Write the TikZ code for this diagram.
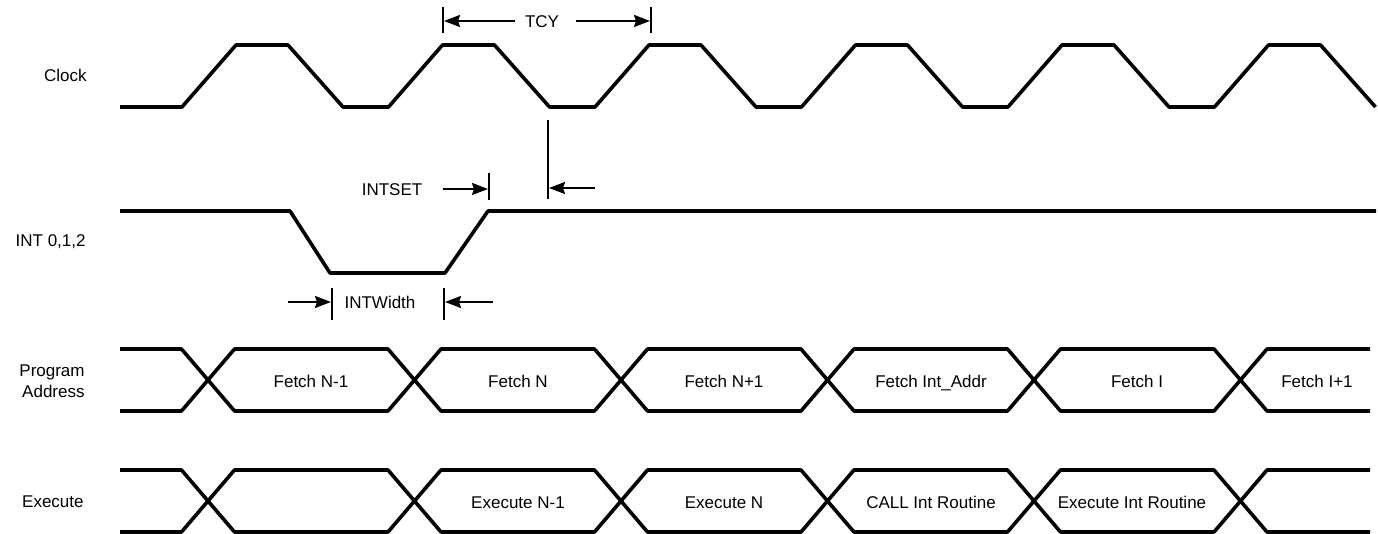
\documentclass[tikz,border=0pt]{standalone}
\usepackage{fontspec}
\setmainfont{Liberation Sans}
\usetikzlibrary{arrows.meta}
\tikzstyle{signal} = [line width=1.8pt, line join=round]
\tikzstyle{bar} = [line width=0.85pt]
\tikzset{
	dimarrow/.style = {line width=1.1pt, -{Stealth[length=8pt, width=6pt, inset=1pt]}}
}
\tikzstyle{sigName} = [anchor=east, align=right, inner sep=0pt, font=\fontsize{8.5}{10.5}\selectfont]
\tikzstyle{cellText} = [inner sep=0pt, text height=1.6ex, text depth=0.4ex, font=\fontsize{8.5}{10}\selectfont]

\begin{document}
\begin{tikzpicture}[x=0.5pt,y=-0.5pt]
\useasboundingbox (0,0) rectangle (1378,534);

% Signal names
\node (clockName) [sigName] at (87,75) {Clock};
\node (intName) [sigName] at (86,242) {INT 0,1,2};
\node (addrName) [sigName] at (85,381) {Program\\Address};
\node (execName) [sigName] at (84,502) {Execute};

% Clock
\draw [signal] (120,107) -- (182,107) -- (236,45) -- (288,45) -- (343,107)
  -- (388.5,107) -- (442.5,45) -- (494.5,45) -- (549.5,107)
  -- (595,107) -- (649,45) -- (701,45) -- (756,107)
  -- (801.5,107) -- (855.5,45) -- (907.5,45) -- (962.5,107)
  -- (1008,107) -- (1062,45) -- (1114,45) -- (1169,107)
  -- (1214.5,107) -- (1268.5,45) -- (1320.5,45) -- (1375.5,107);

% INT 0,1,2
\draw [signal] (120,211) -- (290,211) -- (330,273) -- (445,273) -- (488,211) -- (1376,211);

% Program Address bus
\draw [signal] (120,349) -- (181.5,349) -- (234.5,411) -- (388,411) -- (441,349)
  -- (594.5,349) -- (647.5,411) -- (801,411) -- (854,349) -- (1007.5,349)
  -- (1060.5,411) -- (1214,411) -- (1267,349) -- (1370,349);
\draw [signal] (120,411) -- (181.5,411) -- (234.5,349) -- (388,349) -- (441,411)
  -- (594.5,411) -- (647.5,349) -- (801,349) -- (854,411) -- (1007.5,411)
  -- (1060.5,349) -- (1214,349) -- (1267,411) -- (1370,411);

% Execute bus
\draw [signal] (120,470) -- (181.5,470) -- (234.5,532) -- (388,532) -- (441,470)
  -- (594.5,470) -- (647.5,532) -- (801,532) -- (854,470) -- (1007.5,470)
  -- (1060.5,532) -- (1214,532) -- (1267,470) -- (1370,470);
\draw [signal] (120,532) -- (181.5,532) -- (234.5,470) -- (388,470) -- (441,532)
  -- (594.5,532) -- (647.5,470) -- (801,470) -- (854,532) -- (1007.5,532)
  -- (1060.5,470) -- (1214,470) -- (1267,532) -- (1370,532);

% Bus contents
\node (fetchNm1) [cellText] at (311,381) {Fetch N-1};
\node (fetchN) [cellText] at (518,381) {Fetch N};
\node (fetchNp1) [cellText] at (724,381) {Fetch N+1};
\node (fetchInt) [cellText] at (931,381) {Fetch Int\_Addr};
\node (fetchI) [cellText] at (1137,381) {Fetch I};
\node (fetchIp1) [cellText] at (1317,381) {Fetch I+1};
\node (execNm1) [cellText] at (518,502) {Execute N-1};
\node (execN) [cellText] at (724,502) {Execute N};
\node (callInt) [cellText] at (931,502) {CALL Int Routine};
\node (execInt) [cellText] at (1132,502) {Execute Int Routine};

% TCY
\draw [bar] (443,7) -- (443,33);
\draw [bar] (651,7) -- (651,33);
\coordinate (tcyL) at (444,21);
\coordinate (tcyR) at (650,21);
\node (tcy) [cellText] at (542,21) {TCY};
\draw [dimarrow] ([xshift=-5pt]tcy.west) -- (tcyL);
\draw [dimarrow] ([xshift=8.5pt]tcy.east) -- (tcyR);

% INTSET
\draw [bar] (489,173) -- (489,200);
\draw [bar] (548,120) -- (548,199);
\coordinate (setL) at (488,189);
\coordinate (setR) at (549,188);
\node (intset) [cellText] at (392,189) {INTSET};
\draw [dimarrow] ([xshift=10pt]intset.east) -- (setL);
\draw [dimarrow] (595,188) -- (setR);

% INTWidth
\draw [bar] (332,288) -- (332,320);
\draw [bar] (444,288) -- (444,320);
\coordinate (widL) at (331,302);
\coordinate (widR) at (445,302);
\node (intwidth) [cellText] at (380,302) {INTWidth};
\draw [dimarrow] (288,302) -- (widL);
\draw [dimarrow] (493,302) -- (widR);

\end{tikzpicture}
\end{document}
